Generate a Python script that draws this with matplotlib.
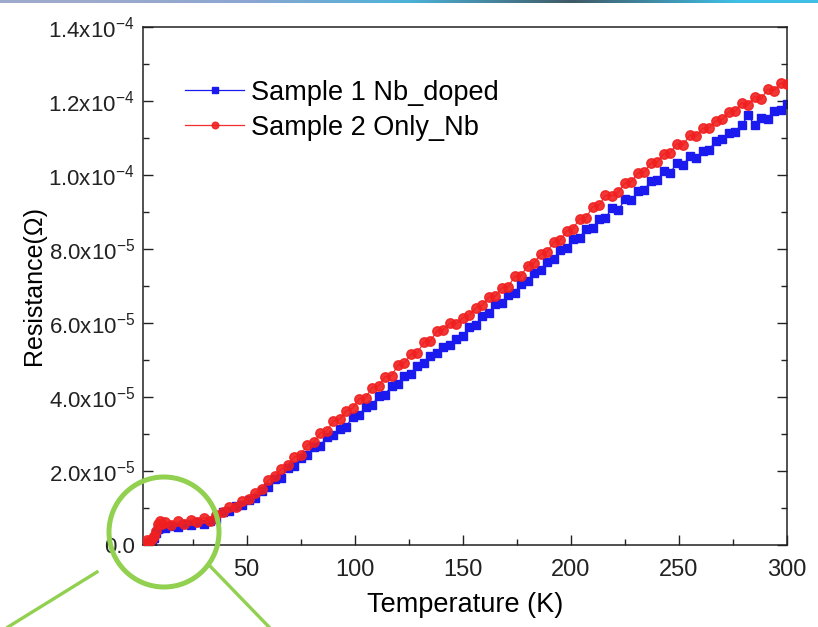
import matplotlib
matplotlib.use("Agg")
import matplotlib.pyplot as plt
import numpy as np
from matplotlib.patches import Ellipse
from matplotlib.lines import Line2D
from matplotlib.ticker import MultipleLocator, FixedLocator, FixedFormatter

plt.rcParams["font.family"] = ["Liberation Sans", "DejaVu Sans"]
plt.rcParams["mathtext.default"] = "regular"

# temperature points (K)
temperature = [
    3, 4, 5, 6, 7, 8, 9, 10, 11, 12,
    15, 18, 21, 24, 27, 30, 33, 36, 39, 42, 45, 48,
    51, 54, 57, 60, 63, 66, 69, 72, 75, 78, 81, 84, 87, 90, 93,
    96, 99, 102, 105, 108, 111, 114, 117, 120, 123, 126, 129, 132, 135, 138,
    141, 144, 147, 150, 153, 156, 159, 162, 165, 168, 171, 174, 177,
    180, 183, 186, 189, 192, 195, 198, 201, 204, 207, 210, 213,
    216, 219, 222, 225, 228, 231, 234, 237, 240, 243, 246, 249, 252, 255, 258,
    261, 264, 267, 270, 273, 276, 279, 282, 285, 288, 291, 294, 297, 300,
]

# resistance in units of 1e-5 ohm
sample1_nb_doped = [
    0.01, 0.02, 0.03, 0.08, 0.20, 0.33, 0.42, 0.47, 0.50, 0.46,
    0.52, 0.50, 0.56, 0.54, 0.62, 0.58, 0.66, 0.70, 0.88, 0.92, 1.06, 1.08,
    1.22, 1.26, 1.46, 1.56, 1.78, 1.82, 2.08, 2.14, 2.34, 2.42, 2.64, 2.68, 2.92, 2.96, 3.14,
    3.20, 3.46, 3.50, 3.74, 3.78, 4.02, 4.06, 4.30, 4.36, 4.56, 4.62, 4.84, 4.92, 5.12, 5.18,
    5.36, 5.40, 5.58, 5.66, 5.90, 5.95, 6.20, 6.26, 6.50, 6.55, 6.76, 6.82, 7.06,
    7.14, 7.36, 7.44, 7.66, 7.74, 7.96, 8.04, 8.26, 8.30, 8.54, 8.56, 8.82,
    8.84, 9.10, 9.06, 9.34, 9.32, 9.56, 9.60, 9.84, 9.86, 10.10, 10.06, 10.32, 10.28, 10.50, 10.46,
    10.66, 10.68, 10.92, 10.96, 11.14, 11.16, 11.34, 11.62, 11.34, 11.54, 11.52, 11.74, 11.76, 11.92,
]

sample2_only_nb = [
    0.05, 0.14, 0.06, 0.17, 0.24, 0.38, 0.58, 0.66, 0.57, 0.63,
    0.55, 0.64, 0.57, 0.68, 0.62, 0.74, 0.66, 0.80, 0.88, 1.02, 1.04, 1.18,
    1.25, 1.40, 1.52, 1.75, 1.86, 2.05, 2.16, 2.38, 2.44, 2.70, 2.78, 3.02, 3.08, 3.34, 3.40,
    3.62, 3.70, 3.95, 3.98, 4.25, 4.30, 4.55, 4.58, 4.86, 4.92, 5.16, 5.20, 5.48, 5.52, 5.78,
    5.82, 6.00, 5.98, 6.14, 6.22, 6.40, 6.48, 6.70, 6.72, 6.95, 6.98, 7.26, 7.28,
    7.55, 7.62, 7.86, 7.92, 8.18, 8.24, 8.48, 8.55, 8.82, 8.84, 9.14, 9.18,
    9.45, 9.44, 9.55, 9.78, 9.82, 10.05, 10.08, 10.32, 10.36, 10.58, 10.60, 10.84, 10.82, 11.08, 11.05,
    11.26, 11.28, 11.46, 11.50, 11.70, 11.72, 11.95, 11.90, 12.12, 12.05, 12.32, 12.28, 12.48, 12.45,
]

y_ticks = [0, 2e-5, 4e-5, 6e-5, 8e-5, 1e-4, 1.2e-4, 1.4e-4]
y_tick_labels = ["0.0", "2.0x10$^{-5}$", "4.0x10$^{-5}$", "6.0x10$^{-5}$",
                 "8.0x10$^{-5}$", "1.0x10$^{-4}$", "1.2x10$^{-4}$", "1.4x10$^{-4}$"]
x_ticks = [50, 100, 150, 200, 250, 300]

W, H = 818, 627
fig = plt.figure(figsize=(W / 100, H / 100), dpi=100)
ax = fig.add_axes([143 / W, 1 - 545 / H, (787 - 143) / W, (545 - 27) / H])

T = np.array(temperature)
r1 = np.array(sample1_nb_doped) * 1e-5
r2 = np.array(sample2_only_nb) * 1e-5

ax.plot(T, r1, color="#1a1aee", lw=0.9, marker="s", ms=5.8, mec="#1a1aee",
        mfc="#1a1aee", label="Sample 1 Nb_doped", zorder=2)
ax.plot(T, r2, color="#f01818", lw=0.9, marker="o", ms=6.8, mec="#f02020",
        mfc="#f02020", alpha=0.9, label="Sample 2 Only_Nb", zorder=3)

ax.set_xlim(2, 300)
ax.set_ylim(0, 1.4e-4)
ax.xaxis.set_major_locator(FixedLocator(x_ticks))
ax.xaxis.set_minor_locator(MultipleLocator(25))
ax.yaxis.set_major_locator(FixedLocator(y_ticks))
ax.yaxis.set_major_formatter(FixedFormatter(y_tick_labels))
ax.yaxis.set_minor_locator(MultipleLocator(1e-5))
ax.tick_params(which="both", direction="in", right=True, top=False, width=1.0,
               colors="#222222")
ax.tick_params(which="major", length=7)
ax.tick_params(which="minor", length=4)
ax.tick_params(axis="x", pad=10, labelsize=17)
ax.tick_params(axis="y", pad=6, labelsize=16)
for s in ax.spines.values():
    s.set_linewidth(1.1)
    s.set_color("#222222")

ax.set_xlabel("Temperature (K)", fontsize=19.5, labelpad=8)
ax.set_ylabel("Resistance(Ω)", fontsize=18, labelpad=2)

ax.legend(loc="upper left", bbox_to_anchor=(0.044, 0.924), frameon=False,
          fontsize=19.5, handlelength=2.2, handletextpad=0.25,
          labelspacing=0.32, borderpad=0, markerscale=0.7)

# thin slide band along the top edge
band = fig.add_axes([0, 1 - 3 / H, 1, 3 / H])
grad = np.array([[[0.62, 0.67, 0.80], [0.55, 0.65, 0.82], [0.30, 0.70, 0.85],
                  [0.25, 0.35, 0.40], [0.25, 0.75, 0.90]]])
band.imshow(grad, aspect="auto", interpolation="bilinear", extent=[0, 1, 0, 1])
band.set_axis_off()

# green callout circle and lines
green = "#92D050"
fig.add_artist(Ellipse((164 / W, 1 - 532 / H), 110 / W, 110 / H,
                       transform=fig.transFigure, fill=False, ec=green, lw=3.6,
                       zorder=10))
fig.add_artist(Line2D([97 / W, 8 / W], [1 - 572 / H, 0], transform=fig.transFigure,
                      color=green, lw=2.4, zorder=10))
fig.add_artist(Line2D([209 / W, 269 / W], [1 - 565 / H, 0], transform=fig.transFigure,
                      color=green, lw=2.4, zorder=10))

fig.savefig("out.png", dpi=100)
